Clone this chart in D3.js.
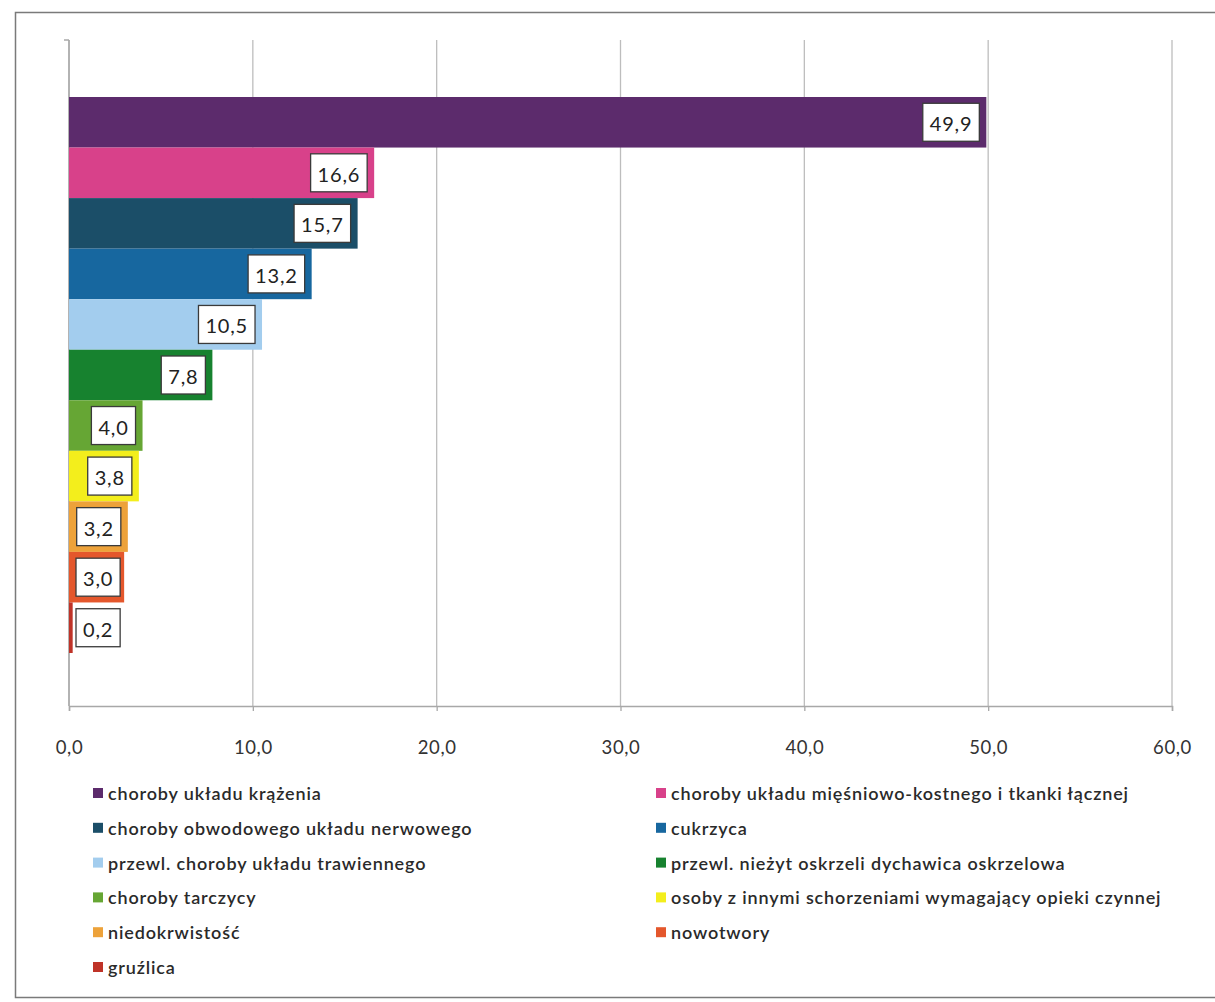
<!DOCTYPE html>
<html>
<head>
<meta charset="utf-8">
<script src="https://cdn.jsdelivr.net/npm/d3@7"></script>
<style>
  html, body { margin: 0; padding: 0; background: #fff; }
  svg { display: block; }
  text { font-family: Lato, "Open Sans", sans-serif; }
</style>
</head>
<body>
<script>
// Disease categories (bar order, top to bottom)
const categories = [
  "choroby układu krążenia",
  "choroby układu mięśniowo-kostnego i tkanki łącznej",
  "choroby obwodowego układu nerwowego",
  "cukrzyca",
  "przewl. choroby układu trawiennego",
  "przewl. nieżyt oskrzeli dychawica oskrzelowa",
  "choroby tarczycy",
  "osoby z innymi schorzeniami wymagający opieki czynnej",
  "niedokrwistość",
  "nowotwory",
  "gruźlica"
];
const values = [49.9, 16.6, 15.7, 13.2, 10.5, 7.8, 4.0, 3.8, 3.2, 3.0, 0.2];
const colors = [
  "#5c2b6c", "#d8418a", "#1b4e68", "#17679f", "#a3cdee", "#17822f",
  "#66a634", "#f3ee1c", "#eda23a", "#e4572c", "#bf3328"
];
const xTicks = [0, 10, 20, 30, 40, 50, 60];

const W = 1215, H = 1002;
const fmt = v => d3.format(".1f")(v).replace(".", ",");

const svg = d3.select("body").append("svg")
  .attr("width", W).attr("height", H);

// outer frame
svg.append("rect")
  .attr("x", 15.5).attr("y", 12.5)
  .attr("width", 1215).attr("height", 985)
  .attr("fill", "#fff").attr("stroke", "#7a7a7a").attr("stroke-width", 1.5);

const plotTop = 40, plotBottom = 706;
const x = d3.scaleLinear().domain([0, 60]).range([69, 1172]);
const y = d3.scaleBand().domain(categories).range([97, 653]).padding(0);

// vertical gridlines
svg.append("g").selectAll("line")
  .data(xTicks)
  .join("line")
  .attr("x1", d => x(d)).attr("x2", d => x(d))
  .attr("y1", plotTop).attr("y2", plotBottom)
  .attr("stroke", "#bdbdbd").attr("stroke-width", 1.3);

// bottom axis with tick labels
const axis = svg.append("g")
  .attr("transform", `translate(0,${plotBottom})`)
  .call(d3.axisBottom(x).tickValues(xTicks).tickFormat(fmt).tickSize(5).tickPadding(30));
axis.select(".domain").attr("stroke", "#a8a8a8").attr("stroke-width", 1.5);
axis.selectAll(".tick line").attr("stroke", "#a8a8a8").attr("stroke-width", 1.3);
axis.selectAll(".tick text")
  .attr("font-size", 18.5).attr("fill", "#333")
  .style("letter-spacing", "0.6px")
  .style("font-family", "Lato, 'Open Sans', sans-serif");

// vertical axis line with its top tick
svg.append("line")
  .attr("x1", x(0)).attr("x2", x(0)).attr("y1", plotTop).attr("y2", plotBottom)
  .attr("stroke", "#a8a8a8").attr("stroke-width", 1.5);
svg.append("line")
  .attr("x1", x(0) - 5).attr("x2", x(0)).attr("y1", plotTop).attr("y2", plotTop)
  .attr("stroke", "#a8a8a8").attr("stroke-width", 1.5);

const data = categories.map((c, i) => ({ cat: c, value: values[i], color: colors[i] }));

// bars
svg.append("g").selectAll("rect")
  .data(data)
  .join("rect")
  .attr("x", x(0))
  .attr("y", d => y(d.cat))
  .attr("width", d => x(d.value) - x(0))
  .attr("height", y.bandwidth())
  .attr("fill", d => d.color);

// value labels in white boxes at the inner end of each bar
const labels = svg.append("g").selectAll("g")
  .data(data)
  .join("g");
labels.each(function(d) {
  const g = d3.select(this);
  const t = g.append("text")
    .attr("font-size", 20).attr("fill", "#222")
    .attr("text-anchor", "middle")
    .attr("dominant-baseline", "central")
    .style("letter-spacing", "0.8px")
    .text(fmt(d.value));
  const tw = t.node().getComputedTextLength();
  const bw = tw + 14, bh = 38;
  const right = Math.max(x(d.value) - 7, x(0) + 7 + bw);
  const cx = right - bw / 2;
  const cy = y(d.cat) + y.bandwidth() / 2;
  g.insert("rect", "text")
    .attr("x", right - bw).attr("y", cy - bh / 2)
    .attr("width", bw).attr("height", bh)
    .attr("fill", "#fff").attr("stroke", "#3a3a3a").attr("stroke-width", 1.3);
  t.attr("x", cx).attr("y", cy + 1);
});

// legend in two columns
const legend = svg.append("g");
const colX = [99, 662];
const rowY0 = 793, rowStep = 34.8;
const items = legend.selectAll("g")
  .data(data)
  .join("g")
  .attr("transform", (d, i) => `translate(${colX[i % 2]},${rowY0 + Math.floor(i / 2) * rowStep})`);
items.append("rect")
  .attr("x", -6).attr("y", -5)
  .attr("width", 10).attr("height", 10)
  .attr("fill", d => d.color);
items.append("text")
  .attr("x", 9).attr("y", 0)
  .attr("dominant-baseline", "central")
  .attr("font-size", 18).attr("font-weight", 600).attr("fill", "#2a2a2a")
  .style("letter-spacing", "0.85px")
  .text(d => d.cat);
</script>
</body>
</html>
